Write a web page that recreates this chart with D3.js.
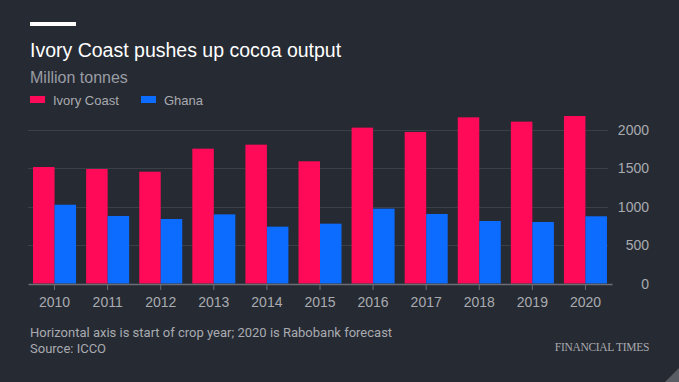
<!DOCTYPE html>
<html>
<head>
<meta charset="utf-8">
<script src="https://cdn.jsdelivr.net/npm/d3@7"></script>
<style>
html,body{margin:0;padding:0;background:#262a33;}
svg{display:block;}
</style>
</head>
<body>
<svg id="chart" width="679" height="382"></svg>
<script>
const years = ["2010","2011","2012","2013","2014","2015","2016","2017","2018","2019","2020"];
const ivoryCoast = [1513,1487,1452,1751,1803,1587,2024,1968,2158,2102,2175];
const ghana = [1023,877,838,898,738,777,972,903,812,799,873];
const seriesNames = ["Ivory Coast","Ghana"];
const seriesColors = ["#ff0a58","#0c6cff"];
const yTicks = [0,500,1000,1500,2000];

const svg = d3.select("#chart");
const W = 679, H = 382;
const font = "'Liberation Sans', Arial, sans-serif";
svg.append("rect").attr("width",W).attr("height",H).attr("fill","#262a33");

// top white rule
svg.append("rect").attr("x",30).attr("y",22).attr("width",46).attr("height",4).attr("fill","#ffffff");

svg.append("text").attr("x",30).attr("y",57).text("Ivory Coast pushes up cocoa output")
  .attr("fill","#ffffff").attr("font-family",font).attr("font-size",19.5);
svg.append("text").attr("x",30).attr("y",82.5).text("Million tonnes")
  .attr("fill","#9a9da4").attr("font-family",font).attr("font-size",16);

// legend
const leg = svg.append("g");
const legX = [30,141];
seriesNames.forEach((n,i)=>{
  leg.append("rect").attr("x",legX[i]).attr("y",96).attr("width",15).attr("height",7).attr("fill",seriesColors[i]);
  leg.append("text").attr("x",legX[i]+23).attr("y",105).text(n)
    .attr("fill","#a9abb0").attr("font-family",font).attr("font-size",13);
});

const x = d3.scaleBand().domain(years).range([28,612]).paddingInner(0.19).paddingOuter(0.095);
const xs = d3.scaleBand().domain(seriesNames).range([0,x.bandwidth()]);
const y = d3.scaleLinear().domain([0,2000]).range([283.5,129.5]);

// gridlines
svg.append("g").selectAll("line").data(yTicks.filter(d=>d>0)).join("line")
  .attr("x1",28).attr("x2",608).attr("y1",d=>Math.round(y(d))+0.5).attr("y2",d=>Math.round(y(d))+0.5)
  .attr("stroke","#3b3f48").attr("stroke-width",1);

// y axis labels (right)
const yAxis = d3.axisRight(y).tickValues(yTicks).tickFormat(d3.format("d")).tickSize(0).tickPadding(0);
const gy = svg.append("g").attr("transform","translate(649,0)").call(yAxis);
gy.select(".domain").remove();
gy.selectAll("text").attr("text-anchor","end").attr("fill","#a9abb0")
  .attr("font-family",font).attr("font-size",14).attr("dy","0.35em");

// bars
const groups = svg.append("g").selectAll("g").data(years).join("g")
  .attr("transform",d=>`translate(${x(d)},0)`);
groups.selectAll("rect").data((d,i)=>[
  {s:"Ivory Coast",v:ivoryCoast[i]},{s:"Ghana",v:ghana[i]}]).join("rect")
  .attr("x",d=>xs(d.s)).attr("width",xs.bandwidth())
  .attr("y",d=>y(d.v)).attr("height",d=>y(0)-y(d.v))
  .attr("fill",(d,i)=>seriesColors[i]);

// x axis
const xAxis = d3.axisBottom(x).tickSize(6).tickSizeOuter(0).tickPadding(7);
const gx = svg.append("g").attr("transform","translate(0,284)").call(xAxis);
gx.select(".domain").attr("stroke","#6b6e75").attr("stroke-width",1.5);
gx.selectAll(".tick line").attr("stroke","#6b6e75");
gx.selectAll("text").attr("fill","#a9abb0").attr("font-family",font).attr("font-size",14);

// footer
const foot = "'Liberation Sans Narrow', 'Roboto', 'Noto Sans', sans-serif";
svg.append("text").attr("x",30).attr("y",337).text("Horizontal axis is start of crop year; 2020 is Rabobank forecast")
  .attr("fill","#a9abb0").attr("font-family",foot).attr("font-size",13);
svg.append("text").attr("x",30).attr("y",353).text("Source: ICCO")
  .attr("fill","#a9abb0").attr("font-family",foot).attr("font-size",13);
svg.append("text").attr("x",649).attr("y",351).attr("text-anchor","end").text("FINANCIAL TIMES")
  .attr("fill","#a9abb0").attr("font-family","'Liberation Serif', 'DejaVu Serif', serif").attr("font-size",11.5)
  .attr("letter-spacing","-0.3");
svg.append("path").attr("d","M679,368 L679,382 L665,382 Z").attr("fill","#5a5d64");
</script>
</body>
</html>
